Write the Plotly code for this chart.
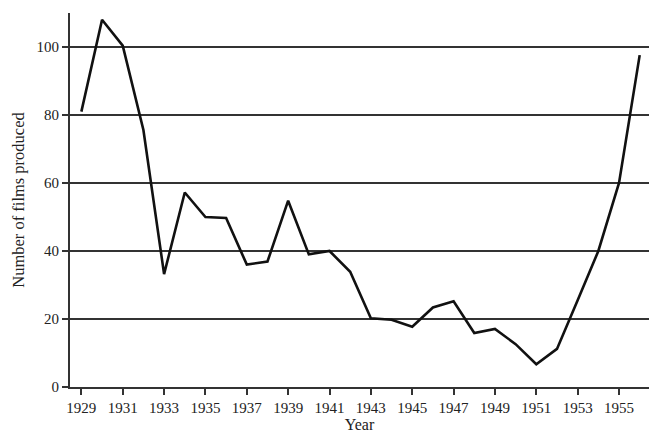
import plotly.graph_objects as go

years = list(range(1929, 1957))
films = [81, 108, 100.4, 75.6, 33.2, 57.2, 50, 49.7, 36, 36.9, 54.8, 39, 40,
         33.9, 20.2, 19.8, 17.7, 23.4, 25.2, 15.9, 17.1, 12.6, 6.7, 11.2,
         25.5, 40, 60, 97.6]
x_ticks = list(range(1929, 1957, 2))
y_ticks = [0, 20, 40, 60, 80, 100]

font_family = "Liberation Serif, DejaVu Serif, serif"

fig = go.Figure()
fig.add_trace(go.Scatter(
    x=years, y=films, mode="lines",
    line=dict(color="#111111", width=2.6),
    showlegend=False, hoverinfo="skip"))

# page body has an 8px default margin, so margins compensate for it
fig.update_layout(
    width=666, height=443,
    margin=dict(l=62, r=25, t=5, b=64, autoexpand=False),
    paper_bgcolor="white", plot_bgcolor="white",
    font=dict(family=font_family, size=15, color="#222222"),
    xaxis=dict(
        range=[1928.45, 1956.45],
        tickmode="array", tickvals=x_ticks, ticktext=[str(v) for v in x_ticks],
        showgrid=False, zeroline=False,
        showline=True, linecolor="#333333", linewidth=2,
        ticks="outside", ticklen=6, tickwidth=1.5, tickcolor="#333333",
        title=dict(text="Year", standoff=4, font=dict(size=16)),
    ),
    yaxis=dict(
        range=[0, 110],
        tickmode="array", tickvals=y_ticks, ticktext=[str(v) for v in y_ticks],
        showgrid=True, gridcolor="#333333", gridwidth=1.5,
        zeroline=False,
        showline=True, linecolor="#333333", linewidth=2,
        ticks="outside", ticklen=6, tickwidth=1.5, tickcolor="#333333",
        title=dict(text="Number of films produced", standoff=8, font=dict(size=16.5)),
    ),
)

fig.write_html("out.html")
